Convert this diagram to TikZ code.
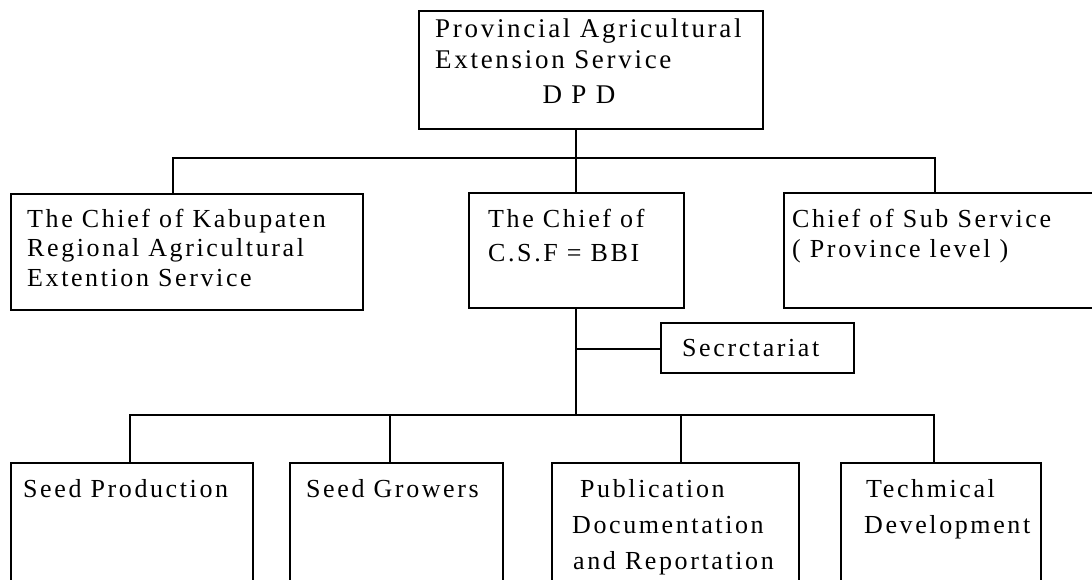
\documentclass[tikz,border=0pt]{standalone}
\usepackage{fontspec}
\setmainfont[LetterSpace=10]{Liberation Serif}
\begin{document}
\begin{tikzpicture}[x=1pt,y=-1pt,
  box/.style={draw, line width=1.8pt, inner sep=0pt, anchor=north west},
  conn/.style={line width=1.4pt},
  lbl/.style={anchor=base west, inner sep=0pt, font=\fontsize{26}{28}\selectfont},
  lbltop/.style={lbl, font=\fontsize{27}{29}\selectfont},
  lblc/.style={lbltop, anchor=base}]
\useasboundingbox (0,0) rectangle (1092,580);
\clip (0,0) rectangle (1092,580);
% boxes
\node[box, minimum width=344pt, minimum height=118pt] (top) at (418,10) {};
\node[box, minimum width=352pt, minimum height=116pt] (kab) at (10,193) {};
\node[box, minimum width=215pt, minimum height=115pt] (mid) at (468,192) {};
\node[box, minimum width=320pt, minimum height=115pt] (sub) at (783,192) {};
\node[box, minimum width=193pt, minimum height=50pt] (sec) at (660,322) {};
\node[box, minimum width=242pt, minimum height=140pt] (sp) at (10,462) {};
\node[box, minimum width=213pt, minimum height=140pt] (sg) at (289,462) {};
\node[box, minimum width=247pt, minimum height=140pt] (pub) at (551,462) {};
\node[box, minimum width=200pt, minimum height=140pt] (tech) at (840,462) {};
% texts
\node[lbltop] (t1) at (435,38) {Provincial Agricultural};
\node[lbltop] (t2) at (435,69) {Extension Service};
\node[lblc] (t3) at (579,104) {D P D};
\node[lbl] (k1) at (27,227) {The Chief of Kabupaten};
\node[lbl] (k2) at (27,256) {Regional Agricultural};
\node[lbl] (k3) at (27,286) {Extention Service};
\node[lbl] (m1) at (488,227) {The Chief of};
\node[lbl] (m2) at (488,261) {C.S.F = BBI};
\node[lbl] (s1) at (792,227) {Chief of Sub Service};
\node[lbl] (s2) at (792,258) {( Province level )};
\node[lbl] (se) at (682,356) {Secrctariat};
\node[lbl] (p1) at (23,497) {Seed Production};
\node[lbl] (g1) at (306,497) {Seed Growers};
\node[lbl] (u1) at (580,497) {Publication};
\node[lbl] (u2) at (572,533) {Documentation};
\node[lbl] (u3) at (573,569) {and Reportation};
\node[lbl] (h1) at (866,497) {Techmical};
\node[lbl] (h2) at (864,533) {Development};
% connector coordinates
\coordinate (ua) at (173,158);
\coordinate (ub) at (576,158);
\coordinate (uc) at (935,158);
\coordinate (sj) at (576,349);
\coordinate (la) at (130,415);
\coordinate (lb) at (390,415);
\coordinate (lm) at (576,415);
\coordinate (lc) at (681,415);
\coordinate (ld) at (934,415);
% connectors
\draw[conn] (ub |- top.south) -- (ub);
\draw[conn] (ua |- kab.north) -- (ua) -- (uc) -- (uc |- sub.north);
\draw[conn] (ub) -- (ub |- mid.north);
\draw[conn] (ub |- mid.south) -- (lm);
\draw[conn] (sj) -- (sec.west |- sj);
\draw[conn] (la |- sp.north) -- (la) -- (ld) -- (ld |- tech.north);
\draw[conn] (lb) -- (lb |- sg.north);
\draw[conn] (lc) -- (lc |- pub.north);
\end{tikzpicture}
\end{document}
